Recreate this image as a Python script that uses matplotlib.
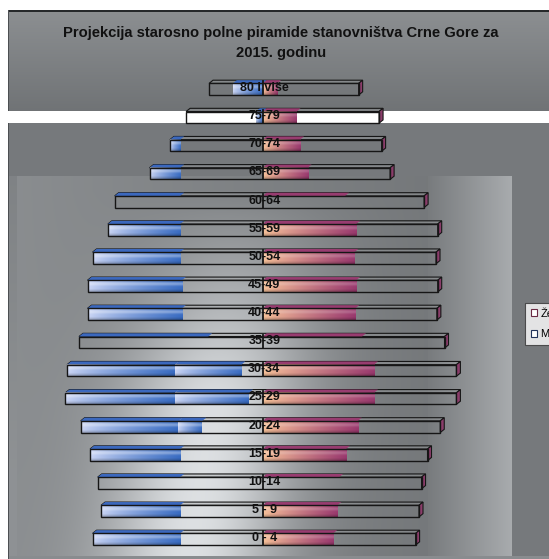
import numpy as np
import matplotlib
matplotlib.use('Agg')
import matplotlib.pyplot as plt
from matplotlib.patches import Polygon, Rectangle, Patch

# ---------------- data (thousands) ----------------
age_groups = ['0 - 4', '5 - 9', '10-14', '15-19', '20-24', '25-29', '30-34', '35-39',
              '40-44', '45-49', '50-54', '55-59', '60-64', '65-69', '70-74', '75-79',
              '80 i više']
male = [20.0, 19.0, 19.4, 20.3, 21.4, 23.2, 23.0, 21.6, 20.6, 20.6, 20.0, 18.2, 17.4,
        13.3, 10.9, 9.0, 6.3]
female = [18.0, 18.4, 18.7, 19.4, 20.9, 22.8, 22.8, 21.4, 20.5, 20.6, 20.4, 20.6, 19.0,
          15.0, 14.0, 13.7, 11.3]
# rendered colour fill portions (outer, inner) on the male side
male_fill = [[(20.0, 9.7)], [(19.0, 9.7)], [(19.4, 9.7)], [(20.3, 9.7)],
             [(21.4, 9.9), (9.9, 7.1)], [(23.2, 10.3), (10.3, 1.6)],
             [(23.0, 10.3), (10.3, 2.5)], [(21.6, 6.4)], [(20.6, 9.5)], [(20.6, 9.5)],
             [(20.0, 9.7)], [(18.2, 9.7)], [(17.4, 9.7)], [(13.3, 9.7)], [(10.9, 9.7)],
             [(0.8, 0.0)], [(3.5, 0.0)]]
female_fill = [8.3, 8.8, 9.0, 9.8, 11.2, 13.1, 13.1, 11.7, 10.9, 11.0, 10.8, 11.0, 9.7,
               5.3, 4.4, 4.0, 1.7]
front_filled = [True, True, False, True, True, True, True, False, True, True, True, True,
                False, True, True, True, True]
legend_labels = ['Žene', 'Muškarci']
title = 'Projekcija starosno polne piramide stanovništva Crne Gore za\n2015. godinu'

# ---------------- figure ----------------
W, H = 549, 559
fig = plt.figure(figsize=(W / 100, H / 100), dpi=100)

# background
yy, xx = np.mgrid[0:H, 0:W].astype(float) + 0.5
g = np.full((H, W), 0.465)
tm = yy < 110.7
g[tm] = (0.56 - 0.12 * (yy / 110.7))[tm]
left = (xx >= 8) & (xx < 17) & (yy >= 176)
g[left] = (0.50 + 0.06 * np.clip((yy - 176) / 300, 0, 1))[left]
panel = (xx >= 17) & (xx < 512) & (yy >= 176) & (yy < 556)
base = np.where(xx < 428, 0.54 - 0.08 * (xx - 17) / 411, 0.47 + 0.19 * (xx - 428) / 84)
A = 0.36 * np.clip((yy - 190) / 210, 0, 1)
xc = 215 - 0.15 * (yy - 400)
bump = np.where(xx < 428, A * np.exp(-((xx - xc) / 90) ** 2), 0)
g[panel] = (base + bump)[panel]
g[(yy >= 556) & (xx >= 8)] = 0.54
g[(yy >= 110.7) & (yy < 122.7)] = 1.0
g[(xx < 8) | (yy < 10)] = 1.0
g[(yy >= 10) & (yy < 11.6) & (xx >= 8)] = 0.15
g[(xx >= 8) & (xx < 9.5) & (yy >= 10) & ~((yy >= 110.7) & (yy < 122.7))] = 0.3
bg = np.clip(np.dstack([g, g + 0.012, g + 0.022]), 0, 1)

ax_bg = fig.add_axes([0, 0, 1, 1])
ax_bg.imshow(bg, extent=[0, W, H, 0], interpolation='bilinear', aspect='auto')
ax_bg.set_xlim(0, W)
ax_bg.set_ylim(H, 0)
ax_bg.axis('off')

# bars axes: center pixel 262.6, 8.5 px per unit; rows 28.125 px apart
cpx, S = 262.6, 8.5
ax = fig.add_axes([0, 0, 1, 1])
ax.patch.set_alpha(0)
ax.axis('off')
x_lo, x_hi = -cpx / S, (W - cpx) / S
y0px, step = 539.2, 28.125
y_lo, y_hi = (y0px - H) / step, y0px / step

h = 5.8 / step          # half height of front face
dx = 4.0 / S            # 3D depth offsets
dy = 3.2 / step
edge = '#161616'

def grad_img(c0, c1, n=64, m=14, power=1.0, hl=0.35):
    t = np.linspace(0, 1, n) ** power
    c0, c1 = np.array(c0), np.array(c1)
    row = c0[None, :] * (1 - t[:, None]) + c1[None, :] * t[:, None]
    v = np.linspace(0, 1, m)
    hi = hl * np.exp(-((v - 0.3) / 0.16) ** 2)
    dark = 0.25 * np.clip((v - 0.75) / 0.25, 0, 1)
    img = row[None, :, :] * (1 - hi[:, None, None]) + hi[:, None, None]
    img = img * (1 - dark[:, None, None])
    img[0] = img[0] * 0.6
    return np.clip(img, 0, 1)

blue_img = grad_img((0.80, 0.84, 0.96), (0.22, 0.42, 0.76), power=0.8)
pink_img = grad_img((0.97, 0.76, 0.60), (0.60, 0.22, 0.43), power=0.9, hl=0.2)
blue_top = '#3b68be'
pink_top = '#983c70'

for i, lab in enumerate(age_groups):
    m, f = male[i], female[i]
    top = i + h
    # top face
    ax.add_patch(Polygon([(-m, top), (f, top), (f + dx, top + dy), (-m + dx, top + dy)],
                         closed=True, facecolor=(0.62, 0.63, 0.64, 0.35), edgecolor=edge,
                         lw=0.8, zorder=2))
    for (o, inn) in male_fill[i]:
        ax.add_patch(Polygon([(-o, top), (-inn, top), (-inn + dx, top + dy), (-o + dx, top + dy)],
                             closed=True, facecolor=blue_top, edgecolor='none', zorder=2.5))
    pf = female_fill[i]
    ax.add_patch(Polygon([(0, top), (pf, top), (pf + dx, top + dy), (dx, top + dy)],
                         closed=True, facecolor=pink_top, edgecolor='none', zorder=2.5))
    # front colour fills
    if front_filled[i]:
        for (o, inn) in male_fill[i]:
            ax.imshow(blue_img, extent=[-o, -inn, i - h, i + h], origin='upper',
                      aspect='auto', interpolation='bilinear', zorder=3)
        ax.imshow(pink_img, extent=[0, pf, i - h, i + h], origin='upper',
                  aspect='auto', interpolation='bilinear', zorder=3)
    # right side face
    ax.add_patch(Polygon([(f, i - h), (f, top), (f + dx, top + dy), (f + dx, i - h + dy)],
                         closed=True, facecolor='#8a3d6a', edgecolor=edge, lw=0.8, zorder=4))
    # front outline
    ax.add_patch(Rectangle((-m, i - h), m + f, 2 * h, facecolor='none', edgecolor=edge,
                           lw=1.0, zorder=5))
    ax.plot([0, 0], [i - h, top + dy * 0.6], color=edge, lw=1.3, zorder=5)
    ax.text(0.2, i + 0.04, lab, ha='center', va='center', fontsize=9, fontweight='bold',
            family='Liberation Sans', color='#111111', zorder=6)

ax.set_xlim(x_lo, x_hi)
ax.set_ylim(y_lo, y_hi)

# title
fig.text(281 / W, 1 - 33 / H, title.split('\n')[0], ha='center', va='center', fontsize=10.6,
         fontweight='bold', family='Liberation Sans', color='#111111')
fig.text(281.5 / W, 1 - 53 / H, title.split('\n')[1], ha='center', va='center', fontsize=10.6,
         fontweight='bold', family='Liberation Sans', color='#111111')

# legend (partly cut off at right edge as in the original)
handles = [Patch(facecolor='white', edgecolor='#6a2a44', lw=0.8),
           Patch(facecolor='white', edgecolor='#22335a', lw=0.8)]
leg = fig.legend(handles, legend_labels, loc='upper left',
                 bbox_to_anchor=(525 / W, 1 - 303 / H),
                 prop={'family': 'Liberation Sans', 'size': 8},
                 frameon=True, fancybox=False, handlelength=0.6, handleheight=0.6,
                 handletextpad=0.3, borderpad=0.5, labelspacing=0.95, borderaxespad=0)
leg.get_frame().set_edgecolor('#333333')
leg.get_frame().set_linewidth(0.8)

fig.savefig('out.png', dpi=100)
